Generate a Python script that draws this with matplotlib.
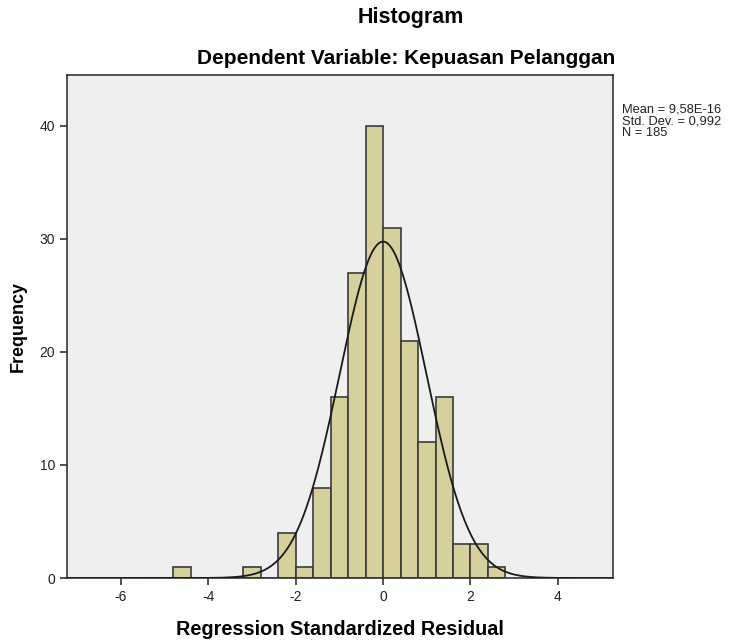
import numpy as np
import matplotlib
matplotlib.use("Agg")
import matplotlib.pyplot as plt

# ---- data ----
bin_edges = [-4.8, -4.4, -4.0, -3.6, -3.2, -2.8, -2.4, -2.0, -1.6, -1.2, -0.8,
             -0.4, 0.0, 0.4, 0.8, 1.2, 1.6, 2.0, 2.4, 2.8]
counts = [1, 0, 0, 0, 1, 0, 4, 1, 8, 16, 27, 40, 31, 21, 12, 16, 3, 3, 1]
mean = 9.58e-16
std_dev = 0.992
n_obs = 185
x_ticks = [-6, -4, -2, 0, 2, 4]
y_ticks = [0, 10, 20, 30, 40]

plt.rcParams['font.family'] = ['Liberation Sans', 'DejaVu Sans']

fig = plt.figure(figsize=(7.36, 6.40), dpi=100)
fig.patch.set_facecolor('white')

ax = fig.add_axes([67/736, 62/640, 546/736, 503/640])
ax.set_facecolor('#efefef')

lefts = np.array(bin_edges[:-1])
widths = np.diff(bin_edges)
ax.bar(lefts, counts, width=widths, align='edge', color='#d6d09c',
       edgecolor='#3a3a3a', linewidth=1.2, zorder=2)

binw = widths[0]
xs = np.linspace(-7.3, 5.3, 600)
pdf = n_obs * binw * np.exp(-0.5 * ((xs - mean) / std_dev) ** 2) / (std_dev * np.sqrt(2 * np.pi))
ax.plot(xs, pdf, color='#1a1a1a', linewidth=1.3, zorder=3)

ax.set_xlim(-7.23, 5.26)
ax.set_ylim(0, 44.5)
ax.set_xticks(x_ticks)
ax.set_xticklabels([str(t) for t in x_ticks])
ax.set_yticks(y_ticks)
ax.set_yticklabels([str(t) for t in y_ticks])
ax.tick_params(axis='both', direction='out', length=5, width=1.2, colors='#333333',
               labelsize=10, labelcolor='#222222')
for s in ax.spines.values():
    s.set_color('#333333')
    s.set_linewidth(1.2)

ax.set_xlabel("Regression Standardized Residual", fontsize=14.3, fontweight='bold', labelpad=12)
ax.set_ylabel("Frequency", fontsize=13, fontweight='bold', labelpad=9)

fig.text(411/736, 1 - 18/640, "Histogram", ha='center', va='center', fontsize=15.5, fontweight='bold')
fig.text(406/736, 1 - 58/640, "Dependent Variable: Kepuasan Pelanggan", ha='center', va='center',
         fontsize=15, fontweight='bold')

fig.text(622/736, 1 - 103/640,
         "Mean = 9,58E-16\nStd. Dev. = 0,992\nN = 185",
         ha='left', va='top', fontsize=9.3, linespacing=1.0, color='#222222')

fig.savefig("out.png", dpi=100)
